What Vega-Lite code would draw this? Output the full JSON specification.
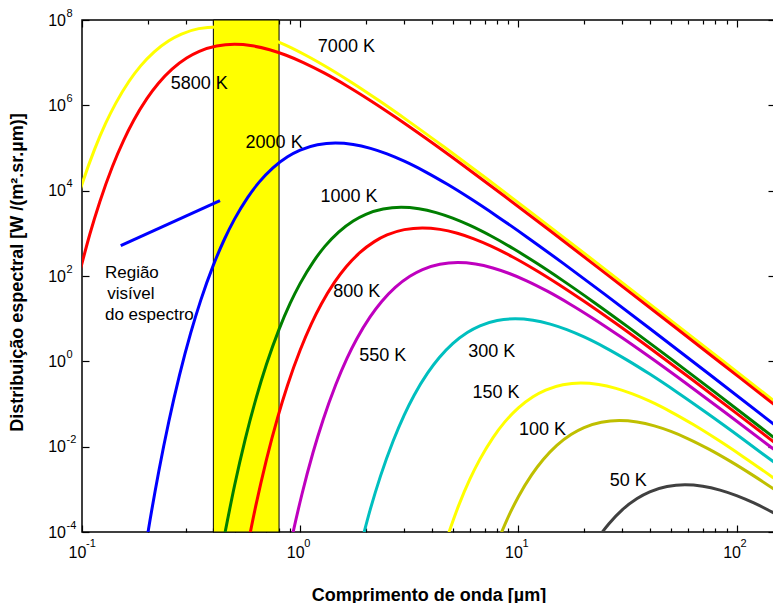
{
  "$schema": "https://vega.github.io/schema/vega-lite/v6.json",
  "autosize": {"type": "none"},
  "padding": {"left": 82, "top": 20, "right": 0, "bottom": 71},
  "width": 693,
  "height": 512,
  "background": "white",
  "config": {
    "view": {"stroke": "black", "strokeWidth": 1.5},
    "font": "Liberation Sans",
    "axis": {
      "grid": false,
      "domain": false,
      "tickColor": "black",
      "tickWidth": 1.2,
      "labelColor": "black",
      "titleColor": "black",
      "labelFont": "Liberation Sans",
      "titleFont": "Liberation Sans",
      "labelFontSize": 16,
      "titleFontSize": 18,
      "titleFontWeight": "bold",
      "labelFlush": false,
      "labelOverlap": false,
      "labelBound": false
    }
  },
  "resolve": {"axis": {"x": "independent", "y": "independent"}},
  "layer": [
    {
      "data": {"values": [{"x": 0.4, "x2": 0.8, "y": 0.0001, "y2": 100000000}]},
      "mark": {"type": "rect", "fill": "#ffff00", "stroke": "black", "strokeWidth": 1},
      "encoding": {
        "x": {
          "field": "x", "type": "quantitative",
          "scale": {"type": "log", "domain": [0.1, 150], "nice": false},
          "axis": {
            "orient": "bottom", "values": [0.1, 1, 10, 100], "tickSize": -7,
            "labelPadding": 27.5, "labelBaseline": "middle", "labelOffset": -5,
            "labelExpr": "'10'",
            "title": "Comprimento de onda [µm]", "titleY": 68, "titleBaseline": "alphabetic"
          }
        },
        "x2": {"field": "x2"},
        "y": {
          "field": "y", "type": "quantitative",
          "scale": {"type": "log", "domain": [0.0001, 100000000], "nice": false},
          "axis": {
            "orient": "left", "values": [0.0001, 0.01, 1, 100, 10000, 1000000, 100000000], "tickSize": -7,
            "labelPadding": 23.5, "labelBaseline": "middle",
            "labelExpr": "'10'",
            "title": "Distribuição espectral [W /(m².sr.µm)]", "titleX": -64.5, "titleY": 252, "titleBaseline": "middle"
          }
        },
        "y2": {"field": "y2"}
      }
    },
    {
      "data": {"values": [
        {"c": "7000 K", "x": 0.09, "y": 2435}, {"c": "7000 K", "x": 0.1, "y": 14110}, {"c": "7000 K", "x": 0.1143, "y": 94300}, {"c": "7000 K", "x": 0.1286, "y": 387000}, {"c": "7000 K", "x": 0.1429, "y": 1128000}, {"c": "7000 K", "x": 0.1643, "y": 3670000}, {"c": "7000 K", "x": 0.1857, "y": 8420000}, {"c": "7000 K", "x": 0.2143, "y": 18010000}, {"c": "7000 K", "x": 0.25, "y": 32770000}, {"c": "7000 K", "x": 0.2857, "y": 46930000}, {"c": "7000 K", "x": 0.3429, "y": 62740000}, {"c": "7000 K", "x": 0.4143, "y": 68800000}, {"c": "7000 K", "x": 0.5, "y": 63530000}, {"c": "7000 K", "x": 0.6, "y": 51490000}, {"c": "7000 K", "x": 0.7143, "y": 38180000}, {"c": "7000 K", "x": 0.8571, "y": 25740000}, {"c": "7000 K", "x": 1.071, "y": 14520000}, {"c": "7000 K", "x": 1.357, "y": 7295000}, {"c": "7000 K", "x": 1.714, "y": 3472000}, {"c": "7000 K", "x": 2.286, "y": 1309000}, {"c": "7000 K", "x": 3.143, "y": 420700}, {"c": "7000 K", "x": 4.571, "y": 105100}, {"c": "7000 K", "x": 7.143, "y": 19210}, {"c": "7000 K", "x": 11.43, "y": 3100}, {"c": "7000 K", "x": 21.43, "y": 261.8}, {"c": "7000 K", "x": 42.86, "y": 16.77}, {"c": "7000 K", "x": 85.71, "y": 1.06}, {"c": "7000 K", "x": 157.1, "y": 0.0944},
        {"c": "5800 K", "x": 0.09655, "y": 98.65}, {"c": "5800 K", "x": 0.1086, "y": 951}, {"c": "5800 K", "x": 0.1207, "y": 5509}, {"c": "5800 K", "x": 0.1379, "y": 36830}, {"c": "5800 K", "x": 0.1552, "y": 151100}, {"c": "5800 K", "x": 0.1724, "y": 440600}, {"c": "5800 K", "x": 0.1983, "y": 1432000}, {"c": "5800 K", "x": 0.2241, "y": 3289000}, {"c": "5800 K", "x": 0.2586, "y": 7032000}, {"c": "5800 K", "x": 0.3017, "y": 12800000}, {"c": "5800 K", "x": 0.3448, "y": 18330000}, {"c": "5800 K", "x": 0.4138, "y": 24490000}, {"c": "5800 K", "x": 0.5, "y": 26860000}, {"c": "5800 K", "x": 0.6034, "y": 24810000}, {"c": "5800 K", "x": 0.7241, "y": 20110000}, {"c": "5800 K", "x": 0.8621, "y": 14910000}, {"c": "5800 K", "x": 1.034, "y": 10050000}, {"c": "5800 K", "x": 1.293, "y": 5669000}, {"c": "5800 K", "x": 1.638, "y": 2848000}, {"c": "5800 K", "x": 2.069, "y": 1356000}, {"c": "5800 K", "x": 2.759, "y": 511300}, {"c": "5800 K", "x": 3.793, "y": 164300}, {"c": "5800 K", "x": 5.517, "y": 41040}, {"c": "5800 K", "x": 8.621, "y": 7500}, {"c": "5800 K", "x": 13.79, "y": 1211}, {"c": "5800 K", "x": 25.86, "y": 102.2}, {"c": "5800 K", "x": 51.72, "y": 6.548}, {"c": "5800 K", "x": 103.4, "y": 0.4142}, {"c": "5800 K", "x": 189.7, "y": 0.03686},
        {"c": "2000 K", "x": 0.175, "y": 0.000001017}, {"c": "2000 K", "x": 0.2, "y": 0.00008896}, {"c": "2000 K", "x": 0.225, "y": 0.002687}, {"c": "2000 K", "x": 0.25, "y": 0.03883}, {"c": "2000 K", "x": 0.28, "y": 0.4811}, {"c": "2000 K", "x": 0.315, "y": 4.637}, {"c": "2000 K", "x": 0.35, "y": 26.87}, {"c": "2000 K", "x": 0.4, "y": 179.6}, {"c": "2000 K", "x": 0.45, "y": 736.6}, {"c": "2000 K", "x": 0.5, "y": 2149}, {"c": "2000 K", "x": 0.575, "y": 6986}, {"c": "2000 K", "x": 0.65, "y": 16040}, {"c": "2000 K", "x": 0.75, "y": 34290}, {"c": "2000 K", "x": 0.875, "y": 62410}, {"c": "2000 K", "x": 1.0, "y": 89360}, {"c": "2000 K", "x": 1.2, "y": 119500}, {"c": "2000 K", "x": 1.45, "y": 131000}, {"c": "2000 K", "x": 1.75, "y": 121000}, {"c": "2000 K", "x": 2.1, "y": 98060}, {"c": "2000 K", "x": 2.5, "y": 72710}, {"c": "2000 K", "x": 3.0, "y": 49000}, {"c": "2000 K", "x": 3.75, "y": 27640}, {"c": "2000 K", "x": 4.75, "y": 13890}, {"c": "2000 K", "x": 6.0, "y": 6612}, {"c": "2000 K", "x": 8.0, "y": 2494}, {"c": "2000 K", "x": 11.0, "y": 801.2}, {"c": "2000 K", "x": 16.0, "y": 200.1}, {"c": "2000 K", "x": 25.0, "y": 36.58}, {"c": "2000 K", "x": 40.0, "y": 5.903}, {"c": "2000 K", "x": 75.0, "y": 0.4985}, {"c": "2000 K", "x": 150.0, "y": 0.03193}, {"c": "2000 K", "x": 300.0, "y": 0.002018},
        {"c": "1000 K", "x": 0.45, "y": 0.00008395}, {"c": "1000 K", "x": 0.5, "y": 0.001213}, {"c": "1000 K", "x": 0.56, "y": 0.01503}, {"c": "1000 K", "x": 0.63, "y": 0.1449}, {"c": "1000 K", "x": 0.7, "y": 0.8395}, {"c": "1000 K", "x": 0.8, "y": 5.61}, {"c": "1000 K", "x": 0.9, "y": 23.01}, {"c": "1000 K", "x": 1.0, "y": 67.14}, {"c": "1000 K", "x": 1.15, "y": 218.3}, {"c": "1000 K", "x": 1.3, "y": 501.2}, {"c": "1000 K", "x": 1.5, "y": 1072}, {"c": "1000 K", "x": 1.75, "y": 1950}, {"c": "1000 K", "x": 2.0, "y": 2793}, {"c": "1000 K", "x": 2.4, "y": 3733}, {"c": "1000 K", "x": 2.9, "y": 4093}, {"c": "1000 K", "x": 3.5, "y": 3780}, {"c": "1000 K", "x": 4.2, "y": 3064}, {"c": "1000 K", "x": 5.0, "y": 2272}, {"c": "1000 K", "x": 6.0, "y": 1531}, {"c": "1000 K", "x": 7.5, "y": 863.7}, {"c": "1000 K", "x": 9.5, "y": 433.9}, {"c": "1000 K", "x": 12.0, "y": 206.6}, {"c": "1000 K", "x": 16.0, "y": 77.92}, {"c": "1000 K", "x": 22.0, "y": 25.03}, {"c": "1000 K", "x": 32.0, "y": 6.252}, {"c": "1000 K", "x": 50.0, "y": 1.143}, {"c": "1000 K", "x": 80.0, "y": 0.1845}, {"c": "1000 K", "x": 150.0, "y": 0.01558},
        {"c": "800 K", "x": 0.5625, "y": 0.0000275}, {"c": "800 K", "x": 0.625, "y": 0.0003977}, {"c": "800 K", "x": 0.7, "y": 0.004926}, {"c": "800 K", "x": 0.7875, "y": 0.04748}, {"c": "800 K", "x": 0.875, "y": 0.2751}, {"c": "800 K", "x": 1.0, "y": 1.839}, {"c": "800 K", "x": 1.125, "y": 7.542}, {"c": "800 K", "x": 1.25, "y": 22.01}, {"c": "800 K", "x": 1.4375, "y": 71.52}, {"c": "800 K", "x": 1.625, "y": 164.3}, {"c": "800 K", "x": 1.875, "y": 351.3}, {"c": "800 K", "x": 2.1875, "y": 639}, {"c": "800 K", "x": 2.5, "y": 915.1}, {"c": "800 K", "x": 3.0, "y": 1223}, {"c": "800 K", "x": 3.625, "y": 1341}, {"c": "800 K", "x": 4.375, "y": 1239}, {"c": "800 K", "x": 5.25, "y": 1004}, {"c": "800 K", "x": 6.25, "y": 744.5}, {"c": "800 K", "x": 7.5, "y": 501.9}, {"c": "800 K", "x": 9.375, "y": 283.1}, {"c": "800 K", "x": 11.875, "y": 142.2}, {"c": "800 K", "x": 15.0, "y": 67.7}, {"c": "800 K", "x": 20.0, "y": 25.53}, {"c": "800 K", "x": 27.5, "y": 8.204}, {"c": "800 K", "x": 40.0, "y": 2.049}, {"c": "800 K", "x": 62.5, "y": 0.3746}, {"c": "800 K", "x": 100.0, "y": 0.06045}, {"c": "800 K", "x": 187.5, "y": 0.005105},
        {"c": "550 K", "x": 0.8182, "y": 0.000004224}, {"c": "550 K", "x": 0.9091, "y": 0.00006104}, {"c": "550 K", "x": 1.018, "y": 0.0007565}, {"c": "550 K", "x": 1.145, "y": 0.007292}, {"c": "550 K", "x": 1.273, "y": 0.04224}, {"c": "550 K", "x": 1.455, "y": 0.2824}, {"c": "550 K", "x": 1.636, "y": 1.158}, {"c": "550 K", "x": 1.818, "y": 3.38}, {"c": "550 K", "x": 2.091, "y": 10.98}, {"c": "550 K", "x": 2.364, "y": 25.23}, {"c": "550 K", "x": 2.727, "y": 53.93}, {"c": "550 K", "x": 3.182, "y": 98.13}, {"c": "550 K", "x": 3.636, "y": 140.5}, {"c": "550 K", "x": 4.364, "y": 187.8}, {"c": "550 K", "x": 5.273, "y": 205.9}, {"c": "550 K", "x": 6.364, "y": 190.2}, {"c": "550 K", "x": 7.636, "y": 154.2}, {"c": "550 K", "x": 9.091, "y": 114.3}, {"c": "550 K", "x": 10.91, "y": 77.09}, {"c": "550 K", "x": 13.64, "y": 43.47}, {"c": "550 K", "x": 17.27, "y": 21.84}, {"c": "550 K", "x": 21.82, "y": 10.4}, {"c": "550 K", "x": 29.09, "y": 3.921}, {"c": "550 K", "x": 40.0, "y": 1.26}, {"c": "550 K", "x": 58.18, "y": 0.3146}, {"c": "550 K", "x": 90.91, "y": 0.05752}, {"c": "550 K", "x": 145.5, "y": 0.009283}, {"c": "550 K", "x": 272.7, "y": 0.000784},
        {"c": "300 K", "x": 1.867, "y": 0.00003652}, {"c": "300 K", "x": 2.1, "y": 0.0003521}, {"c": "300 K", "x": 2.333, "y": 0.00204}, {"c": "300 K", "x": 2.667, "y": 0.01363}, {"c": "300 K", "x": 3.0, "y": 0.05591}, {"c": "300 K", "x": 3.333, "y": 0.1632}, {"c": "300 K", "x": 3.833, "y": 0.5304}, {"c": "300 K", "x": 4.333, "y": 1.218}, {"c": "300 K", "x": 5.0, "y": 2.604}, {"c": "300 K", "x": 5.833, "y": 4.739}, {"c": "300 K", "x": 6.667, "y": 6.785}, {"c": "300 K", "x": 8.0, "y": 9.07}, {"c": "300 K", "x": 9.667, "y": 9.945}, {"c": "300 K", "x": 11.67, "y": 9.186}, {"c": "300 K", "x": 14.0, "y": 7.444}, {"c": "300 K", "x": 16.67, "y": 5.521}, {"c": "300 K", "x": 20.0, "y": 3.721}, {"c": "300 K", "x": 25.0, "y": 2.099}, {"c": "300 K", "x": 31.67, "y": 1.054}, {"c": "300 K", "x": 40.0, "y": 0.5022}, {"c": "300 K", "x": 53.33, "y": 0.1893}, {"c": "300 K", "x": 73.33, "y": 0.06081}, {"c": "300 K", "x": 106.7, "y": 0.01519}, {"c": "300 K", "x": 166.7, "y": 0.002777},
        {"c": "150 K", "x": 4.667, "y": 0.00006376}, {"c": "150 K", "x": 5.333, "y": 0.0004261}, {"c": "150 K", "x": 6.0, "y": 0.001748}, {"c": "150 K", "x": 6.667, "y": 0.005099}, {"c": "150 K", "x": 7.667, "y": 0.01658}, {"c": "150 K", "x": 8.667, "y": 0.03805}, {"c": "150 K", "x": 10.0, "y": 0.08137}, {"c": "150 K", "x": 11.67, "y": 0.1481}, {"c": "150 K", "x": 13.33, "y": 0.2121}, {"c": "150 K", "x": 16.0, "y": 0.2835}, {"c": "150 K", "x": 19.33, "y": 0.3108}, {"c": "150 K", "x": 23.33, "y": 0.2871}, {"c": "150 K", "x": 28.0, "y": 0.2327}, {"c": "150 K", "x": 33.33, "y": 0.1725}, {"c": "150 K", "x": 40.0, "y": 0.1163}, {"c": "150 K", "x": 50.0, "y": 0.06561}, {"c": "150 K", "x": 63.33, "y": 0.03296}, {"c": "150 K", "x": 80.0, "y": 0.01569}, {"c": "150 K", "x": 106.7, "y": 0.005916}, {"c": "150 K", "x": 146.7, "y": 0.001901}, {"c": "150 K", "x": 213.3, "y": 0.0004747},
        {"c": "100 K", "x": 8.0, "y": 0.0000561}, {"c": "100 K", "x": 9.0, "y": 0.0002301}, {"c": "100 K", "x": 10.0, "y": 0.0006714}, {"c": "100 K", "x": 11.5, "y": 0.002183}, {"c": "100 K", "x": 13.0, "y": 0.005012}, {"c": "100 K", "x": 15.0, "y": 0.01072}, {"c": "100 K", "x": 17.5, "y": 0.0195}, {"c": "100 K", "x": 20.0, "y": 0.02793}, {"c": "100 K", "x": 24.0, "y": 0.03733}, {"c": "100 K", "x": 29.0, "y": 0.04093}, {"c": "100 K", "x": 35.0, "y": 0.0378}, {"c": "100 K", "x": 42.0, "y": 0.03064}, {"c": "100 K", "x": 50.0, "y": 0.02272}, {"c": "100 K", "x": 60.0, "y": 0.01531}, {"c": "100 K", "x": 75.0, "y": 0.008637}, {"c": "100 K", "x": 95.0, "y": 0.004339}, {"c": "100 K", "x": 120.0, "y": 0.002066}, {"c": "100 K", "x": 160.0, "y": 0.0007792},
        {"c": "50 K", "x": 20.0, "y": 0.00002099}, {"c": "50 K", "x": 23.0, "y": 0.00006823}, {"c": "50 K", "x": 26.0, "y": 0.0001566}, {"c": "50 K", "x": 30.0, "y": 0.0003349}, {"c": "50 K", "x": 35.0, "y": 0.0006093}, {"c": "50 K", "x": 40.0, "y": 0.0008728}, {"c": "50 K", "x": 48.0, "y": 0.001166}, {"c": "50 K", "x": 58.0, "y": 0.001279}, {"c": "50 K", "x": 70.0, "y": 0.001181}, {"c": "50 K", "x": 84.0, "y": 0.0009576}, {"c": "50 K", "x": 100.0, "y": 0.0007101}, {"c": "50 K", "x": 120.0, "y": 0.0004786}, {"c": "50 K", "x": 150.0, "y": 0.0002699}
      ]},
      "mark": {"type": "line", "strokeWidth": 3, "interpolate": "monotone", "clip": true},
      "encoding": {
        "x": {
          "field": "x", "type": "quantitative",
          "scale": {"type": "log", "domain": [0.1, 150], "nice": false},
          "axis": {
            "orient": "bottom", "values": [0.2, 0.3, 0.4, 0.5, 0.6, 0.7, 0.8, 0.9, 2, 3, 4, 5, 6, 7, 8, 9, 20, 30, 40, 50, 60, 70, 80, 90],
            "tickSize": -4, "labels": false, "title": null
          }
        },
        "y": {
          "field": "y", "type": "quantitative",
          "scale": {"type": "log", "domain": [0.0001, 100000000], "nice": false},
          "axis": {"orient": "right", "values": [0.0001, 0.01, 1, 100, 10000, 1000000, 100000000], "tickSize": -7, "labels": false, "title": null}
        },
        "color": {
          "field": "c", "type": "nominal", "legend": null,
          "scale": {
            "domain": ["7000 K", "5800 K", "2000 K", "1000 K", "800 K", "550 K", "300 K", "150 K", "100 K", "50 K"],
            "range": ["#ffff00", "#ff0000", "#0000ff", "#007f00", "#ff0000", "#bf00bf", "#00bfbf", "#ffff00", "#bfbf00", "#404040"]
          }
        }
      }
    },
    {
      "data": {"values": [{"x": 0.1505, "y": 513}, {"x": 0.429, "y": 5820}]},
      "mark": {"type": "line", "color": "#0000ff", "strokeWidth": 3},
      "encoding": {
        "x": {
          "field": "x", "type": "quantitative",
          "scale": {"type": "log", "domain": [0.1, 150], "nice": false},
          "axis": {"orient": "top", "values": [0.1, 1, 10, 100], "tickSize": -7, "labels": false, "title": null}
        },
        "y": {
          "field": "y", "type": "quantitative",
          "scale": {"type": "log", "domain": [0.0001, 100000000], "nice": false},
          "axis": {
            "orient": "left", "values": [0.0001, 0.01, 1, 100, 10000, 1000000, 100000000],
            "ticks": false, "tickSize": 0, "labelPadding": 16, "labelAlign": "left", "labelBaseline": "middle",
            "labelOffset": -7, "labelFontSize": 11,
            "labelExpr": "datum.value >= 1e7 ? '8' : datum.value >= 1e5 ? '6' : datum.value >= 1e3 ? '4' : datum.value >= 10 ? '2' : datum.value >= 0.1 ? '0' : datum.value >= 1e-3 ? '-2' : '-4'",
            "title": null
          }
        }
      }
    },
    {
      "data": {"values": [
        {"t": "7000 K", "x": 1.205, "y": 22900000},
        {"t": "5800 K", "x": 0.2548, "y": 3160000},
        {"t": "2000 K", "x": 0.562, "y": 129000},
        {"t": "1000 K", "x": 1.24, "y": 7000},
        {"t": "800 K", "x": 1.416, "y": 43},
        {"t": "550 K", "x": 1.863, "y": 1.34},
        {"t": "300 K", "x": 5.884, "y": 1.68},
        {"t": "150 K", "x": 6.16, "y": 0.178},
        {"t": "100 K", "x": 10.07, "y": 0.0246},
        {"t": "50 K", "x": 26.2, "y": 0.0016}
      ]},
      "mark": {"type": "text", "align": "left", "baseline": "middle", "fontSize": 18, "font": "Liberation Sans", "color": "black"},
      "encoding": {
        "x": {
          "field": "x", "type": "quantitative",
          "scale": {"type": "log", "domain": [0.1, 150], "nice": false},
          "axis": {
            "orient": "top", "values": [0.2, 0.3, 0.4, 0.5, 0.6, 0.7, 0.8, 0.9, 2, 3, 4, 5, 6, 7, 8, 9, 20, 30, 40, 50, 60, 70, 80, 90],
            "tickSize": -4, "labels": false, "title": null
          }
        },
        "y": {
          "field": "y", "type": "quantitative",
          "scale": {"type": "log", "domain": [0.0001, 100000000], "nice": false},
          "axis": null
        },
        "text": {"field": "t"}
      }
    },
    {
      "data": {"values": [
        {"t": "Região", "x": 0.1274, "y": 119.7},
        {"t": "visível", "x": 0.1306, "y": 37.9},
        {"t": "do espectro", "x": 0.1274, "y": 12.2}
      ]},
      "mark": {"type": "text", "align": "left", "baseline": "middle", "fontSize": 17, "font": "Liberation Sans", "color": "black"},
      "encoding": {
        "x": {
          "field": "x", "type": "quantitative",
          "scale": {"type": "log", "domain": [0.1, 150], "nice": false},
          "axis": {
            "orient": "bottom", "values": [0.1, 1, 10, 100],
            "ticks": false, "tickSize": 0, "labelPadding": 11, "labelAlign": "left", "labelBaseline": "middle",
            "labelOffset": 3.5, "labelFontSize": 11,
            "labelExpr": "datum.value < 0.5 ? '-1' : datum.value < 5 ? '0' : datum.value < 50 ? '1' : '2'",
            "title": null
          }
        },
        "y": {
          "field": "y", "type": "quantitative",
          "scale": {"type": "log", "domain": [0.0001, 100000000], "nice": false},
          "axis": null
        },
        "text": {"field": "t"}
      }
    }
  ]
}
